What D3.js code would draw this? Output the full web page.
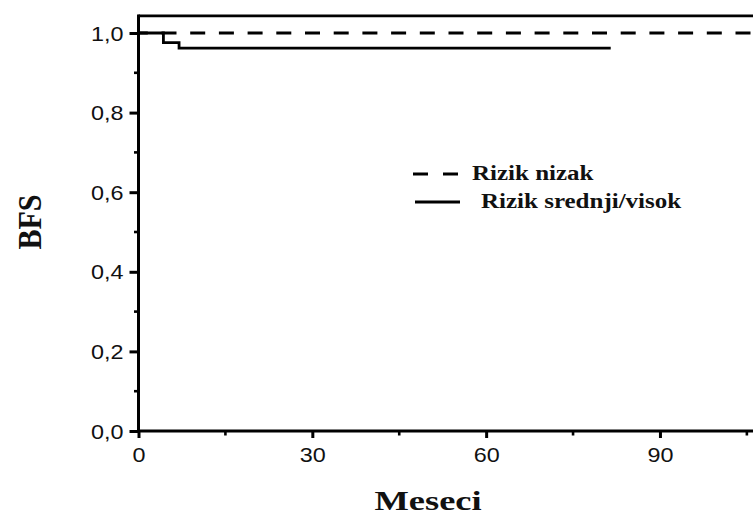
<!DOCTYPE html>
<html>
<head>
<meta charset="utf-8">
<script src="https://cdn.jsdelivr.net/npm/d3@7"></script>
<style>
  body { margin: 0; background: #fff; }
  svg { display: block; }
  .tick-label { font-family: "Liberation Sans", Arial, sans-serif; font-size: 20px; fill: #111; }
  .title { font-family: "Liberation Serif", "Times New Roman", serif; font-weight: bold; fill: #111; }
</style>
</head>
<body>
<svg id="chart" width="753" height="515"></svg>
<script>
// Kaplan-Meier curves (months, survival)
const lowRiskTimes = [0, 115];
const lowRiskSurv = [1.0, 1.0];
const midHighTimes = [0, 4.3, 7.0, 81.5];
const midHighSurv = [1.0, 0.976, 0.962, 0.962];

const xMajor = [0, 30, 60, 90];
const xMinor = [15, 45, 75, 105];
const yMajor = [0, 0.2, 0.4, 0.6, 0.8, 1.0];
const yMinor = [0.1, 0.3, 0.5, 0.7, 0.9];

const legendLabels = ["Rizik nizak", "Rizik srednji/visok"];

const svg = d3.select("#chart");
const stretch = 1.25; // the source picture is stretched sideways
const lw = 2.8;

let x = d3.scaleLinear().domain([0, 115]).range([138.5, 138.5 + 115 * 5.794]);
let y = d3.scaleLinear().domain([0, 1]).range([431, 33]);
const yTop = 1.043;

function toPoints(ts, ss) {
    return ts.map((t, i) => [t, ss[i]]);
}

let stepLine = d3.line()
    .x((d) => x(d[0]))
    .y((d) => y(d[1]))
    .curve(d3.curveStepAfter);

// frame: top line
svg.append("line")
    .attr("x1", x(0)).attr("x2", 760)
    .attr("y1", y(yTop)).attr("y2", y(yTop))
    .attr("stroke", "#000").attr("stroke-width", lw);

// curves
svg.append("path")
    .datum(toPoints(lowRiskTimes, lowRiskSurv))
    .attr("d", stepLine)
    .attr("fill", "none")
    .attr("stroke", "#000")
    .attr("stroke-width", lw)
    .attr("stroke-dasharray", "15,13.7")
    .attr("stroke-dashoffset", 5.7);

svg.append("path")
    .datum(toPoints(midHighTimes, midHighSurv))
    .attr("d", stepLine)
    .attr("fill", "none")
    .attr("stroke", "#000")
    .attr("stroke-width", lw);

// axes
let xAxis = d3.axisBottom(x).tickValues(xMajor).tickSize(7).tickFormat(d3.format("d"));
let gx = svg.append("g")
    .attr("transform", "translate(0," + y(0) + ")")
    .call(xAxis);
gx.select(".domain").remove();
gx.append("line").attr("x1", x(0) - 1.5).attr("x2", 760).attr("stroke", "#000").attr("stroke-width", 3);
gx.selectAll(".tick line").attr("stroke-width", 3);
gx.selectAll(".tick text").attr("class", "tick-label")
    .attr("y", 0).attr("dy", 0)
    .attr("transform", "translate(0,31) scale(" + 1.17 + ",1)")
    .attr("font-size", null).attr("font-family", null);

svg.append("g").selectAll("line")
    .data(xMinor)
    .enter().append("line")
    .attr("x1", (d) => x(d)).attr("x2", (d) => x(d))
    .attr("y1", y(0)).attr("y2", y(0) + 4.5)
    .attr("stroke", "#000").attr("stroke-width", 2.6);

let yAxis = d3.axisLeft(y).tickValues(yMajor).tickSize(9)
    .tickFormat((d) => d3.format(".1f")(d).replace(".", ","));
let gy = svg.append("g")
    .attr("transform", "translate(" + x(0) + ",0)")
    .call(yAxis);
gy.select(".domain").remove();
gy.append("line").attr("y1", y(0) + 1.5).attr("y2", y(yTop) - 1.4).attr("stroke", "#000").attr("stroke-width", 3);
gy.selectAll(".tick line").attr("stroke-width", 3);
gy.selectAll(".tick text").attr("class", "tick-label")
    .attr("x", 0).attr("dy", 0)
    .attr("transform", "translate(-15,7) scale(" + 1.17 + ",1)")
    .attr("font-size", null).attr("font-family", null);

svg.append("g").selectAll("line")
    .data(yMinor)
    .enter().append("line")
    .attr("x1", x(0) - 4.5).attr("x2", x(0))
    .attr("y1", (d) => y(d)).attr("y2", (d) => y(d))
    .attr("stroke", "#000").attr("stroke-width", 2.6);

// legend
let legend = svg.append("g");
legendLabels.forEach((lab, i) => {
    let ly = 174 + i * 28;
    legend.append("line")
        .attr("x1", 413 + i * 2).attr("x2", 460)
        .attr("y1", ly).attr("y2", ly)
        .attr("stroke", "#000").attr("stroke-width", lw)
        .attr("stroke-dasharray", i === 0 ? "15,15" : null);
    legend.append("text")
        .attr("class", "title")
        .attr("font-size", 20)
        .attr("transform", "translate(" + (472 + i * 9) + "," + (ly + 6) + ") scale(" + stretch + ",1)")
        .text(lab);
});

// axis titles
svg.append("text")
    .attr("class", "title")
    .attr("font-size", 28)
    .attr("text-anchor", "middle")
    .attr("transform", "translate(428,510) scale(1.3,1)")
    .text("Meseci");

svg.append("text")
    .attr("class", "title")
    .attr("font-size", 30)
    .attr("text-anchor", "middle")
    .attr("transform", "translate(41,222) rotate(-90) scale(1,1.15)")
    .text("BFS");
</script>
</body>
</html>
